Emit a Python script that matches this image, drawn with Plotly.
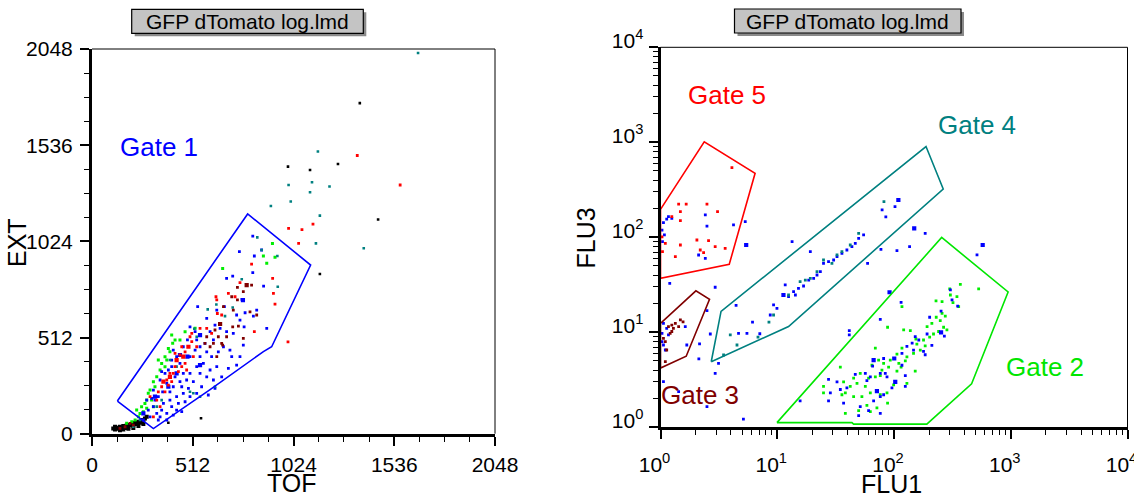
import math
import plotly.graph_objects as go

# ---------------- LEFT PANEL DATA (TOF, EXT) ----------------
gate1 = [(129, 174), (312, 27), (600, 235), (871, 437), (913, 463), (1111, 898), (791, 1170), (129, 174)]

blue_left = [(817,1052),(749,969),(825,946),(862,978),(684,827),(715,839),(817,857),(872,786),(762,715),(537,676),
 (583,614),(634,658),(673,676),(778,644),(820,626),(735,632),(752,605),(837,658),(888,561),(773,569),(718,534),
 (684,543),(651,561),(625,578),(600,543),(574,481),(532,499),(498,569),(485,499),(464,463),(524,445),(549,410),
 (583,436),(608,410),(642,436),(668,463),(701,445),(769,472),(566,374),(600,339),(634,357),(532,357),(498,321),
 (464,321),(447,374),(430,410),(413,445),(405,392),(388,339),(371,321),(354,330),(346,286),(380,268),(413,250),
 (447,277),(481,286),(515,277),(549,321),(583,303),(617,286),(464,215),(430,197),(396,179),(363,161),(337,197),
 (320,179),(312,144),(329,108),(354,126),(380,108),(405,144),(439,161),(473,170),(498,197),(532,215),(295,90),
 (286,126),(261,73),(337,73),(380,73),(413,99),(456,117),(490,241),(557,250),(591,206),(625,241),(659,303),
 (693,348),(735,365),(710,410),(752,410),(617,499),(524,543),(405,357),(549,463),(498,410),(422,303),(456,250),
 (359,223),(312,232),(278,179),(303,188),(396,223),(430,126),(346,90)]
blue_left_big = [(549,525),(447,419),(430,321),(388,250),(320,197),(261,108),(485,410),(549,365),(767,711)]

red_left = [(447,419),(473,436),(498,516),(507,490),(456,463),(422,357),(439,330),(413,321),(380,286),(388,259),
 (405,277),(354,250),(337,223),(371,223),(396,321),(473,374),(481,339),(456,357),(515,410),(422,428),(634,712),
 (693,747),(727,729),(637,640),(659,632),(583,561),(608,534),(549,561),(825,543),(930,690),(918,827),(922,747),
 (811,903),(752,804),(630,729),(329,179),(346,144),(312,90),(507,534),(532,463),(295,197),
 (1348,1481),(1566,1324),(1123,1116),(1067,1086),(999,1093),(1050,1013),(996,489)]
red_left_big = [(464,410),(430,392),(396,303),(363,277),(490,463)]

green_left = [(664,880),(410,481),(396,436),(422,499),(380,392),(371,357),(354,374),(346,339),(329,303),(312,277),
 (320,250),(295,232),(286,215),(278,179),(269,161),(252,144),(261,117),(244,108),(236,90),(219,73),(202,64),
 (176,55),(227,126),(303,179),(337,392),(371,410),(388,454),(447,499),(473,543),(524,561),(405,525),(917,1013),
 (930,939),(871,946),(888,907),(312,144),(278,135)]

darkred_left = [(811,791),(739,779),(769,756),(710,729),(739,712),(718,658),(668,676),(625,552),(642,516),(617,481),
 (583,516),(600,463),(659,481),(684,516),(715,569),(744,573),(769,507),(803,649),(837,632),(664,472),(574,481),
 (634,410),(193,55),(210,46),(168,37),(142,28)]
darkred_left_big = [(786,791),(651,584)]

teal_left = [(761,822),(715,672),(588,662),(632,688),(676,626),(520,559),(532,516),(498,223),(515,215),(549,197),
 (862,978),(840,1045),(944,782),(942,946),(625,250),(396,392),(430,357),(354,179),(329,144),(244,73),(210,37),
 (1657,2027),(1148,1502),(1118,1339),(1108,1285),(1207,1316),(999,1324),(1010,1236),(909,1212),(1158,1161),
 (1138,1013),(1381,987)]

black_left_cluster = [(108,28),(117,23),(125,32),(134,26),(142,37),(151,28),(159,41),(168,30),(176,44),(185,37),
 (193,46),(202,51),(210,42),(219,58),(227,51),(236,64),(244,58),(252,73),(261,64),(269,81),(117,37),(142,19),
 (159,23),(185,26),(210,30),(236,41),(261,51),(278,90)]
black_left = [(388,58),(1361,1760),(1250,1436),(996,1422),(1108,1404),(1454,1140),(1158,850),(554,82)]

# ---------------- RIGHT PANEL DATA (FLU1, FLU3) ----------------
gate2 = [(9.94,1.12),(43.6,1.12),(45.1,1.08),(191,1.08),(462,2.87),(949,26.6),(256,99.6),(9.94,1.12)]
gate3 = [(1.0,12.4),(2.01,27.3),(2.63,22.2),(1.66,5.6),(1.0,4.2),(1.0,12.4)]
gate4 = [(2.72,4.9),(3.3,16.6),(188,902),(264,322),(12.5,11.5),(2.72,4.9)]
gate5 = [(1.0,197),(2.37,1014),(6.46,472),(3.88,52.0),(1.0,37.0),(1.0,197)]

green_right = [(370,32.0),(531,28.6),(229,21.4),(258,21.0),(304,24.7),(346,23.7),(320,20.5),(358,18.6),(117,18.6),
 (258,15.8),(275,14.8),(230,14.4),(249,13.3),(211,12.4),(192,11.5),(266,11.3),(284,10.6),(241,10.2),(218,9.6),
 (202,8.9),(179,8.3),(157,7.5),(138,10.4),(121,10.6),(168,6.5),(147,6.0),(129,5.5),(117,6.8),(106,5.9),(125,5.0),
 (110,4.7),(92.9,5.1),(81.5,4.7),(73.8,5.1),(89.9,4.3),(78.8,4.0),(64.7,4.5),(69.2,3.4),(60.6,3.3),(51.4,3.7),
 (45.1,3.3),(48.2,2.9),(42.2,2.7),(37.0,3.0),(56.8,2.7),(62.7,2.3),(76.3,2.2),(87.1,2.3),(53.1,2.1),(45.1,2.1),
 (38.3,2.3),(35.8,2.2),(24.9,2.7),(24.9,2.3),(34.7,4.3),(76.3,3.5),(99.3,2.8),(129,2.9),(88.1,1.8),(71.4,1.6),
 (62.7,1.46),(49.8,1.5),(38.3,1.40),(58.6,1.7),(152,3.9),(69.2,6.8),(88.1,11.3),(115,4.3),(185,7.2),(154,8.5),
 (106,3.9),(300,28.6)]

blue_right = [(115,20.7),(76.3,13.7),(41.4,10.4),(41.4,9.4),(304,27.9),(314,21.9),(351,18.9),(253,16.7),(202,14.4),
 (270,9.1),(192,9.6),(211,7.3),(185,5.8),(152,9.0),(143,7.7),(147,6.5),(129,7.1),(65.6,4.4),(81.5,5.3),(117,4.5),
 (125,3.5),(76.3,3.7),(62.7,3.4),(87.1,3.4),(76.3,2.1),(66.9,1.9),(81.5,2.2),(56.8,3.7),(46.6,3.6),(58.6,3.1),
 (39.5,2.6),(34.7,2.5),(32.5,3.0),(27.5,3.2),(28.5,2.3),(37.0,1.8),(51.4,1.65),(49.8,1.33),(60.6,1.5),(76.3,1.40),
 (27.5,1.9),(15.7,1.9),(96.0,2.6),(125,2.7),(179,6.3),(117,6.0),(163,8.3),(84.2,3.7),
 (13.8,26.8),(14.3,24.7),(12.5,23.7),(11.7,31.5),(15.2,29.0),(16.8,30.7),(18.6,35.5),(20.5,37.0),(21.9,40.1),
 (23.4,43.5),(24.9,53.2),(27.5,55.4),(30.4,57.7),(32.5,62.5),(35.8,67.8),(39.5,73.5),(43.6,79.8),(46.6,86.4),
 (49.8,97.5),(54.9,106),(9.30,19.4),(9.94,17.9),(8.71,15.2),(13.4,89.9),(19.2,70.6),(102,210),(79.1,194),
 (85.1,164),(6.14,12.8),(7.09,9.66),(4.44,19.2),(2.67,9.60),(2.94,3.70),(3.14,4.72),(5.50,9.76),(4.66,9.76),
 (185,110),(514,65.2),(136,79.8),(106,72.3),(59.4,53.2),(77.3,74.7),(5.13,1.22),(2.50,1.65),(2.13,5.26),
 (2.16,7.54),(2.50,16.9),(2.94,29.8),(1.20,32.8),(1.43,2.38),(1.06,3.03),(1.68,7.35),(1.63,11.5),
 (1.06,143),(1.17,165),(1.25,158),(1.13,155),(1.03,119),(1.08,106),(1.04,89.9),(2.42,172),(2.50,131),(2.12,65.1),
 (2.42,60.1),(5.32,146),(4.22,135),
 (1.06,12.4),(1.13,11.0),(1.03,9.76),(1.17,9.38),(1.06,7.35),(1.10,6.51),(1.03,7.98)]
blue_right_big = [(91.6,26.4),(253,10.0),(100.5,5.3),(66.9,5.1),(102.5,3.0),(71.4,2.4),(11.3,24.7),(109,247),
 (149,124),(575,83),(5.42,83.0)]

teal_right = [(15.7,34.1),(17.4,35.5),(19.2,37.0),(21.9,43.5),(24.9,57.7),(29.4,53.2),(32.5,65.2),(35.8,70.6),
 (42.2,83.0),(49.8,110),(12.5,24.7),(9.30,15.2),(82.0,237),(3.96,9.38),(4.52,7.35),(3.47,5.77),(8.49,12.8),(6.84,8.91)]

red_right = [(4.09,541),(1.43,224),(1.66,224),(2.50,224),(3.08,186),(1.48,186),(1.48,150),(1.25,165),(1.10,86.5),
 (1.48,83.0),(2.05,93.7),(2.58,92.2),(2.94,79.6),(2.19,73.5),(2.34,68.9),(3.58,76.6),(1.34,62.5),(1.03,101),(1.04,70.5)]

darkred_right = [(1.17,11.5),(1.25,11.9),(1.34,12.4),(1.48,13.5),(1.56,12.9),(1.43,11.5),(1.21,9.76),(1.10,7.98),
 (1.06,8.65),(1.13,6.51),(1.10,4.91),(1.25,10.2),(1.29,11.0)]

left_ticks = [0, 512, 1024, 1536, 2048]
log_ticks = [1, 10, 100, 1000, 10000]
log_ticktext = ["10<sup>0</sup>", "10<sup>1</sup>", "10<sup>2</sup>", "10<sup>3</sup>", "10<sup>4</sup>"]
panel_title = "GFP dTomato log.lmd"

BLUE, RED, GREEN, DARKRED, TEAL, BLACK = "#0000ff", "#ff0000", "#00ee00", "#800000", "#008080", "#000000"
GATE2 = "#00e600"
FONT = "Liberation Sans, Arial, sans-serif"

fig = go.Figure()

def pts(data, color, size, xa, ya):
    fig.add_trace(go.Scatter(x=[p[0] for p in data], y=[p[1] for p in data], mode="markers",
                             marker=dict(symbol="square", size=size, color=color, line=dict(width=0)),
                             xaxis=xa, yaxis=ya, showlegend=False, hoverinfo="skip"))

def gate(data, color, xa, ya):
    fig.add_trace(go.Scatter(x=[p[0] for p in data], y=[p[1] for p in data], mode="lines",
                             line=dict(color=color, width=1.6), xaxis=xa, yaxis=ya,
                             showlegend=False, hoverinfo="skip"))

pts(black_left_cluster, BLACK, 4, "x", "y")
pts(black_left, BLACK, 2.6, "x", "y")
pts(green_left, GREEN, 3, "x", "y")
pts(blue_left, BLUE, 2.8, "x", "y")
pts(blue_left_big, BLUE, 4.2, "x", "y")
pts(teal_left, TEAL, 2.6, "x", "y")
pts(darkred_left, DARKRED, 2.8, "x", "y")
pts(darkred_left_big, DARKRED, 4.2, "x", "y")
pts(red_left, RED, 2.8, "x", "y")
pts(red_left_big, RED, 4.2, "x", "y")
gate(gate1, BLUE, "x", "y")

pts(green_right, GREEN, 2.8, "x2", "y2")
pts(blue_right, BLUE, 2.8, "x2", "y2")
pts(blue_right_big, BLUE, 4.2, "x2", "y2")
pts(teal_right, TEAL, 2.8, "x2", "y2")
pts(red_right, RED, 2.8, "x2", "y2")
pts(darkred_right, DARKRED, 2.8, "x2", "y2")
gate(gate2, GATE2, "x2", "y2")
gate(gate3, DARKRED, "x2", "y2")
gate(gate4, TEAL, "x2", "y2")
gate(gate5, RED, "x2", "y2")

W, H = 1134, 496
def px(x): return x / W
def py(y): return 1 - y / H

axis_common = dict(showgrid=False, zeroline=False, showline=True, linecolor="black", linewidth=3,
                   ticks="outside", ticklen=9, tickwidth=1.5, tickcolor="black", automargin=False,
                   ticklabeloverflow="allow",
                   tickfont=dict(family=FONT, size=21, color="black"))
minor_lin = dict(ticks="outside", ticklen=5, tickwidth=1.2, tickcolor="black", dtick=128, tick0=0)
minor_log = dict(ticks="outside", ticklen=5, tickwidth=1.2, tickcolor="black",
                 tickvals=[k * 10 ** d for d in range(4) for k in range(2, 10)])

fig.update_layout(
    width=W, height=H, margin=dict(l=0, r=0, t=0, b=0, autoexpand=False),
    paper_bgcolor="white", plot_bgcolor="white",
    font=dict(family=FONT, color="black"),
    xaxis=dict(axis_common, domain=[px(92), px(495)], range=[0, 2048], anchor="y",
               tickmode="array", tickvals=left_ticks, ticktext=[str(v) for v in left_ticks],
               ticklabelstandoff=1, minor=minor_lin),
    yaxis=dict(axis_common, domain=[py(433.7), py(49)], range=[0, 2048], anchor="x",
               tickmode="array", tickvals=left_ticks, ticktext=[str(v) for v in left_ticks],
               ticklabelstandoff=3, minor=minor_lin),
    xaxis2=dict(axis_common, type="log", domain=[px(660.5), px(1127.5)], range=[0, 4], anchor="y2",
                tickmode="array", tickvals=log_ticks, ticktext=log_ticktext,
                ticklabelstandoff=7, ticklabelshift=-6, minor=minor_log),
    yaxis2=dict(axis_common, type="log", domain=[py(427.3), py(47.3)], range=[0, 4], anchor="x2",
                tickmode="array", tickvals=log_ticks, ticktext=log_ticktext,
                ticklabelstandoff=1, ticklabelshift=-7, minor=minor_log),
)

shapes = []
for xr, yr in (("x domain", "y domain"), ("x2 domain", "y2 domain")):
    shapes.append(dict(type="line", xref=xr, yref=yr, x0=0, x1=1, y0=1, y1=1, line=dict(color="black", width=1)))
    shapes.append(dict(type="line", xref=xr, yref=yr, x0=1, x1=1, y0=0, y1=1, line=dict(color="black", width=1)))
boxes = ((131.7, 363.3, 9.3, 33.3), (734.5, 961, 9.0, 33.0))
for (x0, x1, y0, y1) in boxes:
    shapes.append(dict(type="rect", xref="paper", yref="paper", x0=px(x0 + 3), x1=px(x1 + 3), y0=py(y1 + 3), y1=py(y0 + 3),
                       fillcolor="#8a8a8a", line=dict(width=0), layer="above"))
    shapes.append(dict(type="rect", xref="paper", yref="paper", x0=px(x0), x1=px(x1), y0=py(y1), y1=py(y0),
                       fillcolor="#c4c4c4", line=dict(color="black", width=1.2), layer="above"))
fig.update_layout(shapes=shapes)

ann = []
for (x0, x1, y0, y1) in boxes:
    ann.append(dict(xref="paper", yref="paper", x=px((x0 + x1) / 2), y=py((y0 + y1) / 2 + 0.5), text=panel_title,
                    showarrow=False, font=dict(family=FONT, size=21, color="black"),
                    xanchor="center", yanchor="middle"))
ann.append(dict(xref="paper", yref="paper", x=px(292), y=py(483), text="TOF", showarrow=False,
                font=dict(family=FONT, size=25), xanchor="center", yanchor="middle"))
ann.append(dict(xref="paper", yref="paper", x=px(891.5), y=py(484), text="FLU1", showarrow=False,
                font=dict(family=FONT, size=25), xanchor="center", yanchor="middle"))
ann.append(dict(xref="paper", yref="paper", x=px(17), y=py(243), text="EXT", showarrow=False, textangle=-90,
                font=dict(family=FONT, size=25), xanchor="center", yanchor="middle"))
ann.append(dict(xref="paper", yref="paper", x=px(585.5), y=py(238), text="FLU3", showarrow=False, textangle=-90,
                font=dict(family=FONT, size=25), xanchor="center", yanchor="middle"))
gate_labels = [("Gate 1", 340, 1524, BLUE, "x", "y"), ("Gate 5", 3.73, 3114, RED, "x2", "y2"),
               ("Gate 4", 515, 1503, TEAL, "x2", "y2"), ("Gate 2", 1978, 4.30, GATE2, "x2", "y2"),
               ("Gate 3", 2.19, 2.19, DARKRED, "x2", "y2")]
for t, gx, gy, c, xa, ya in gate_labels:
    if xa == "x2":
        gx, gy = math.log10(gx), math.log10(gy)
    ann.append(dict(xref=xa, yref=ya, x=gx, y=gy, text=t, showarrow=False,
                    font=dict(family=FONT, size=26, color=c), xanchor="center", yanchor="middle"))
fig.update_layout(annotations=ann)

fig.write_html("out.html", config={"displayModeBar": False},
               post_script="document.body.style.margin='0px';document.body.style.overflow='hidden';")
